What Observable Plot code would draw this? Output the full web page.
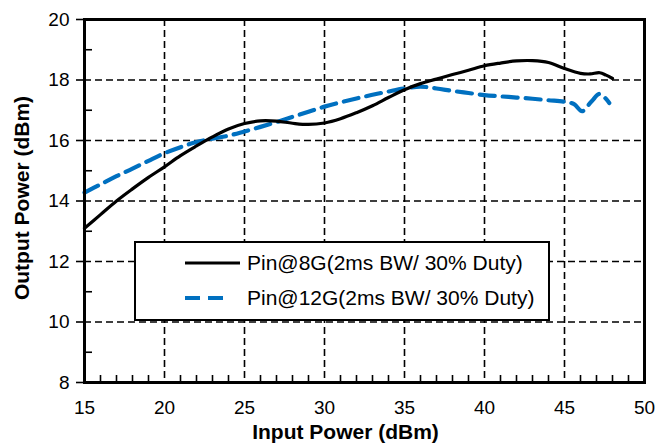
<!DOCTYPE html>
<html>
<head>
<meta charset="utf-8">
<script src="https://cdn.jsdelivr.net/npm/d3@7"></script>
<script src="https://cdn.jsdelivr.net/npm/@observablehq/plot@0.6"></script>
<style>
  html, body { margin: 0; padding: 0; background: #fff; }
  #wrap { position: relative; width: 670px; height: 445px; }
  #legend { position: absolute; left: 0; top: 0; }
</style>
</head>
<body>
<div id="wrap"></div>
<script>
// ---- data ----
const seriesNames = ["Pin@8G(2ms BW/ 30% Duty)", "Pin@12G(2ms BW/ 30% Duty)"];

const pin8 = [15, 16, 17, 18, 19, 20, 21, 22, 23, 24, 25, 26, 27, 28, 29, 30, 31, 32, 33, 34, 35, 36, 37, 38, 39, 40, 41, 42, 43, 44, 45, 46, 46.6, 47.2, 47.6, 48];
const pout8 = [13.1, 13.55, 14.0, 14.4, 14.78, 15.13, 15.5, 15.82, 16.12, 16.38, 16.56, 16.65, 16.64, 16.57, 16.53, 16.58, 16.72, 16.92, 17.15, 17.42, 17.68, 17.88, 18.03, 18.18, 18.32, 18.47, 18.56, 18.63, 18.64, 18.58, 18.38, 18.22, 18.2, 18.24, 18.16, 18.05];

const pin12 = [15, 16, 17, 18, 19, 20, 21, 22, 23, 24, 25, 26, 27, 28, 29, 30, 31, 32, 33, 34, 35, 36, 37, 38, 39, 40, 41, 42, 43, 44, 45, 45.6, 46.1, 46.7, 47.2, 47.8];
const pout12 = [14.28, 14.55, 14.82, 15.07, 15.33, 15.58, 15.78, 15.95, 16.06, 16.16, 16.3, 16.45, 16.61, 16.78, 16.95, 17.12, 17.26, 17.39, 17.51, 17.62, 17.72, 17.78, 17.72, 17.64, 17.57, 17.5, 17.46, 17.42, 17.38, 17.33, 17.28, 17.2, 16.97, 17.3, 17.54, 17.24];

const xTicks = [15, 20, 25, 30, 35, 40, 45, 50];
const yTicks = [8, 10, 12, 14, 16, 18, 20];
const xGrid = [20, 25, 30, 35, 40, 45];
const yGrid = [10, 12, 14, 16, 18];
const xMinor = d3.range(16, 50).filter(v => v % 5 !== 0);
const yMinor = [9, 11, 13, 15, 17, 19];

const xTitle = "Input Power (dBm)";
const yTitle = "Output Power (dBm)";

// ---- build table ----
const s8 = pin8.map((x, i) => ({x, y: pout8[i], s: seriesNames[0]}));
const s12 = pin12.map((x, i) => ({x, y: pout12[i], s: seriesNames[1]}));

const xDom = [xTicks[0], xTicks[xTicks.length - 1]];
const yDom = [yTicks[0], yTicks[yTicks.length - 1]];

const gridStyle = {stroke: "#000", strokeOpacity: 1, strokeWidth: 1.6, strokeDasharray: "7,4"};

const chart = Plot.plot({
  width: 670,
  height: 445,
  marginLeft: 84,
  marginRight: 26,
  marginTop: 19,
  marginBottom: 63,
  x: {domain: xDom},
  y: {domain: yDom},
  style: {fontFamily: "'Liberation Sans', Arial, sans-serif", fontSize: "19px", color: "#000", background: "#fff"},
  marks: [
    Plot.gridX(xGrid, gridStyle),
    Plot.gridY(yGrid, gridStyle),
    Plot.ruleX(xMinor, {x: d => d, y1: () => yDom[0], y2: () => yDom[0], insetTop: -7, stroke: "#000", strokeWidth: 1.6}),
    Plot.ruleY(yMinor, {y: d => d, x1: () => xDom[0], x2: () => xDom[0], insetRight: -8, stroke: "#000", strokeWidth: 1.6}),
    Plot.line(s12, {x: "x", y: "y", curve: "catmull-rom", stroke: "#0070C0", strokeWidth: 4.2, strokeDasharray: "15,8"}),
    Plot.line(s8, {x: "x", y: "y", curve: "catmull-rom", stroke: "#000", strokeWidth: 3.2}),
    Plot.frame({stroke: "#000", strokeWidth: 3}),
    Plot.axisX(xTicks, {tickSize: 0, tickPadding: 18, label: null, fontSize: 19}),
    Plot.axisY(yTicks, {tickSize: 8, tickPadding: 7, label: null, fontSize: 19, strokeWidth: 1.6}),
    Plot.text([xTitle], {frameAnchor: "bottom", textAnchor: "middle", lineAnchor: "middle", dx: -19, dy: 50, fontWeight: "bold", fontSize: 21, text: d => d}),
    Plot.text([yTitle], {frameAnchor: "left", textAnchor: "middle", lineAnchor: "middle", dx: -62, dy: -3, rotate: -90, fontWeight: "bold", fontSize: 21, text: d => d})
  ]
});

const wrap = document.getElementById("wrap");
wrap.appendChild(chart);

// ---- legend overlay ----
const legend = d3.select(wrap).append("svg")
  .attr("id", "legend")
  .attr("width", 670).attr("height", 445);

const box = {x: 135, y: 242, w: 414, h: 78};
legend.append("rect")
  .attr("x", box.x).attr("y", box.y).attr("width", box.w).attr("height", box.h)
  .attr("fill", "#fff").attr("stroke", "#000").attr("stroke-width", 2);

const legendItems = [
  {name: seriesNames[0], stroke: "#000", width: 3.2, dash: null},
  {name: seriesNames[1], stroke: "#0070C0", width: 4.2, dash: "15,8"}
];
legendItems.forEach((d, i) => {
  const cy = box.y + 21 + i * 35;
  legend.append("line")
    .attr("x1", box.x + 50).attr("x2", box.x + (d.dash ? 96 : 105))
    .attr("y1", cy).attr("y2", cy)
    .attr("stroke", d.stroke).attr("stroke-width", d.width)
    .attr("stroke-dasharray", d.dash);
  legend.append("text")
    .attr("x", box.x + 112).attr("y", cy)
    .attr("dy", "0.35em")
    .attr("font-family", "'Liberation Sans', Arial, sans-serif")
    .attr("font-size", 21)
    .attr("fill", "#000")
    .text(d.name);
});
</script>
</body>
</html>
